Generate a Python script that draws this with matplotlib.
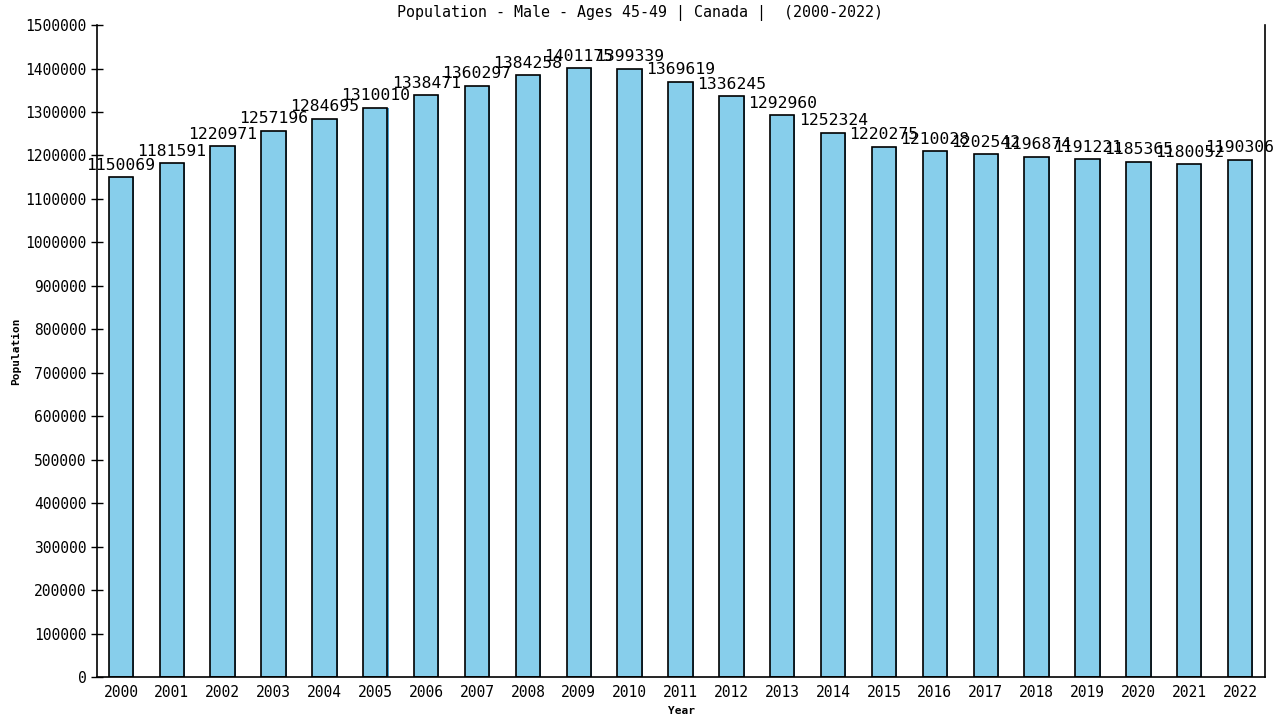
import matplotlib
matplotlib.use('Agg')
import matplotlib.pyplot as plt
import numpy as np

# data
years = [str(y) for y in range(2000, 2023)]
population = [1150069, 1181591, 1220971, 1257196, 1284695, 1310010, 1338471,
              1360297, 1384258, 1401175, 1399339, 1369619, 1336245, 1292960,
              1252324, 1220275, 1210028, 1202542, 1196874, 1191221, 1185365,
              1180052, 1190306]
yticks = list(range(0, 1500001, 100000))

plt.rcParams['font.family'] = ['DejaVu Sans Mono']

fig = plt.figure(figsize=(12.8, 7.2), dpi=100)
ax = fig.add_axes([0.0758, 0.0597, 0.9125, 0.9055])

x = np.arange(len(years))
# shadow bars slightly offset, then main bars
ax.bar(x + 0.02, population, width=0.48, color='#4a9fd0', zorder=1)
ax.bar(x, population, width=0.48, color='#87ceeb', edgecolor='black',
       linewidth=1.2, zorder=2)

for xi, v in zip(x, population):
    ax.text(xi, v + 10000, str(v), ha='center', va='bottom', fontsize=11.8,
            color='black', zorder=3)

ax.set_xlim(-0.47, 22.49)
ax.set_ylim(0, 1500000)
ax.set_xticks(x)
ax.set_xticklabels(years, fontsize=10.5)
ax.set_yticks(yticks)
ax.set_yticklabels([str(t) for t in yticks], fontsize=10.5)
ax.tick_params(axis='y', direction='inout', length=8, width=1)
ax.tick_params(axis='x', length=0, pad=6)

ax.spines['top'].set_visible(False)
ax.spines['right'].set_visible(True)
for s in ['left', 'bottom', 'right']:
    ax.spines[s].set_linewidth(1.2)

ax.set_xlabel('Year', fontsize=8, fontweight='bold', labelpad=4)
ax.set_ylabel('Population', fontsize=8, fontweight='bold', labelpad=3)
fig.text(0.5, 0.982, 'Population - Male - Ages 45-49 | Canada |  (2000-2022)',
         ha='center', va='center', fontsize=10.8)

fig.savefig('out.png', dpi=100)
